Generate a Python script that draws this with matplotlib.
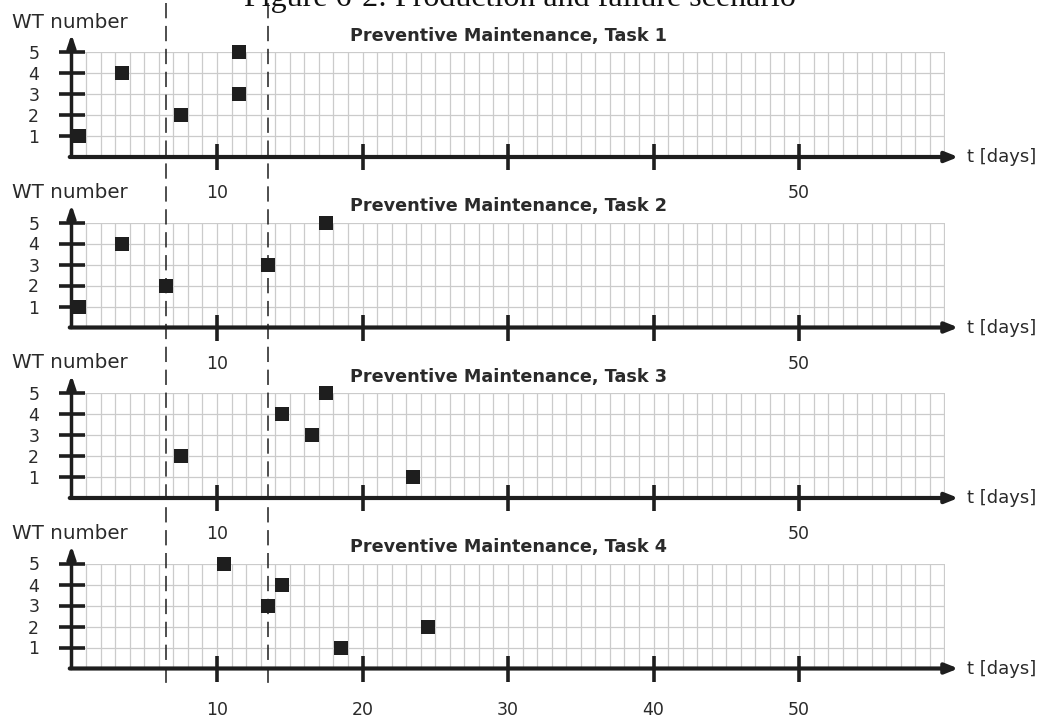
import numpy as np
import matplotlib
matplotlib.use("Agg")
import matplotlib.pyplot as plt

# data: day (cell centre) for each WT 1..5
wt_numbers = [1, 2, 3, 4, 5]
task1_days = [0.5, 7.5, 11.5, 3.5, 11.5]
task2_days = [0.5, 6.5, 13.5, 3.5, 17.5]
task3_days = [23.5, 7.5, 16.5, 14.5, 17.5]
task4_days = [18.5, 24.5, 13.5, 14.5, 10.5]
task_titles = ["Preventive Maintenance, Task 1", "Preventive Maintenance, Task 2",
               "Preventive Maintenance, Task 3", "Preventive Maintenance, Task 4"]
dashed_days = [6.5, 13.5]
x_ticks = [10, 20, 30, 40, 50]
x_ticklabels_top = ["10", "", "", "", "50"]
x_ticklabels_bottom = ["10", "20", "30", "40", "50"]
t_max = 60

plt.rcParams['font.family'] = ['DejaVu Sans']
ink = '#1e1e1e'
txt = '#2a2a2a'

W, H = 1043, 720
fig = plt.figure(figsize=(W / 100, H / 100), dpi=100)

left_px, right_px = 71.5, 944.5
axis_px = [157, 327.5, 498, 668.5]   # pixel row of the t axis of each panel
panel_h = 105

all_days = [task1_days, task2_days, task3_days, task4_days]

for i, days in enumerate(all_days):
    ax = fig.add_axes([left_px / W, 1 - axis_px[i] / H,
                       (right_px - left_px) / W, panel_h / H])
    ax.set_facecolor('none')
    ax.set_xlim(0, t_max)
    ax.set_ylim(0, 5)
    for s in ax.spines.values():
        s.set_visible(False)

    ax.set_xticks(x_ticks)
    ax.set_xticks(np.arange(1, t_max + 1), minor=True)
    ax.set_yticks(wt_numbers)
    ax.set_yticklabels([str(w) for w in wt_numbers])
    last = i == len(all_days) - 1
    ax.set_xticklabels(x_ticklabels_bottom if last else x_ticklabels_top)

    ax.tick_params(which='major', direction='inout', length=18.5, width=2.6,
                   color=ink, labelcolor=txt, labelsize=12.5)
    ax.tick_params(axis='y', pad=14)
    ax.tick_params(axis='x', pad=14.5 if last else 10.5, labelsize=12.5)
    ax.tick_params(which='minor', length=0)
    ax.grid(True, which='both', color='#cbcbcb', lw=0.9)
    ax.set_axisbelow(True)

    # axes with arrow heads
    ax.annotate('', xy=(t_max + 0.95, 0), xytext=(-0.12, 0),
                arrowprops=dict(arrowstyle='-|>,head_length=0.75,head_width=0.3',
                                lw=3, color=ink, shrinkA=0, shrinkB=0),
                annotation_clip=False, zorder=4)
    ax.annotate('', xy=(0, 5.85), xytext=(0, 0),
                arrowprops=dict(arrowstyle='-|>,head_length=0.75,head_width=0.25',
                                lw=2.5, color=ink, shrinkA=0, shrinkB=0),
                annotation_clip=False, zorder=4)

    ax.scatter(days, wt_numbers, marker='s', s=110, color=ink, linewidths=0,
               zorder=5, clip_on=False)

    ax.set_title(task_titles[i], fontsize=12.7, fontweight='bold', color=txt, pad=8)
    ax.annotate('WT number', xy=(0, 0), xytext=(-59.5, 135),
                textcoords='offset pixels', fontsize=14.3, color=txt,
                ha='left', va='center', annotation_clip=False)
    ax.annotate('t [days]', xy=(t_max + 0.95, 0), xytext=(9, 0),
                textcoords='offset pixels', fontsize=13, color=txt,
                ha='left', va='center', annotation_clip=False)

# long dashed lines running through all panels
ov = fig.add_axes([left_px / W, 0, (right_px - left_px) / W, 1])
ov.set_xlim(0, t_max)
ov.set_ylim(H, 0)
ov.axis('off')
ov.patch.set_alpha(0)
ov.vlines(dashed_days, 3, 690, colors=ink, linestyles=(0, (10, 5)), lw=1.1)

# caption of the source document, cut at the top edge as in the original
fig.text(520 / W, 1 - 6 / H, 'Figure 6-2: Production and failure scenario',
         family='Liberation Serif', fontsize=23, color='#111111',
         ha='center', va='baseline')

fig.savefig('out.png', dpi=100)
